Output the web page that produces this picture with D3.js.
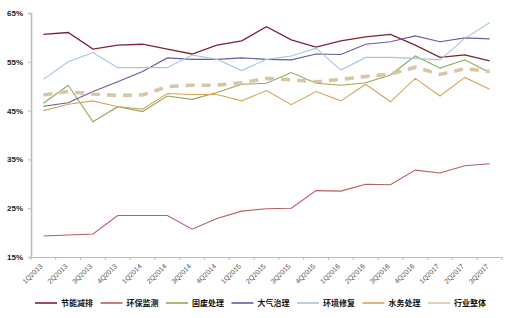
<!DOCTYPE html>
<html>
<head>
<meta charset="utf-8">
<script src="https://cdn.jsdelivr.net/npm/d3@7"></script>
<style>
  body { margin: 0; background: #fff; }
  svg { display: block; }
</style>
</head>
<body>
<svg id="chart" width="516" height="318"></svg>
<script>
// quarters on the x axis
var quarters = ["1Q2013","2Q2013","3Q2013","4Q2013","1Q2014","2Q2014","3Q2014","4Q2014",
  "1Q2015","2Q2015","3Q2015","4Q2015","1Q2016","2Q2016","3Q2016","4Q2016",
  "1Q2017","2Q2017","3Q2017"];

var yTicks = [15, 25, 35, 45, 55, 65];

// gross margin by sub-sector (%)
var jienengjianpai = [60.6,61.0,57.6,58.4,58.6,57.6,56.6,58.4,59.3,62.2,59.5,58.0,59.3,60.1,60.6,58.4,55.9,56.4,55.2];
var huanbaojiance  = [19.3,19.5,19.7,23.5,23.5,23.5,20.7,22.9,24.4,24.9,25.0,28.6,28.5,29.9,29.8,32.8,32.2,33.7,34.1];
var gufeichuli     = [46.5,50.2,42.7,45.8,44.8,48.0,47.3,48.7,50.4,50.6,52.8,50.6,50.2,50.7,52.3,56.2,53.7,55.4,52.8];
var daqizhili       = [45.9,46.6,48.9,50.9,53.0,55.8,55.5,55.5,55.8,55.5,55.4,56.6,56.5,58.6,59.1,60.3,59.1,59.9,59.7];
var huanjingxiufu  = [51.4,55.0,56.9,53.8,53.8,53.8,56.4,55.5,53.2,55.5,56.2,57.8,53.3,55.9,55.9,55.7,55.4,59.8,63.0];
var shuiwuchuli    = [45.0,46.3,47.0,45.8,45.3,48.5,48.3,48.3,47.0,49.1,46.2,48.9,47.0,50.4,46.8,51.6,48.0,51.8,49.4];
var hangyezhengti  = [48.2,48.9,48.4,48.1,48.2,49.9,50.2,50.2,50.7,51.6,51.3,50.9,51.4,52.0,52.5,53.9,52.4,53.6,53.0];

var series = [
  {name: "节能减排", values: jienengjianpai, color: "#7b2333", width: 1.3},
  {name: "环保监测", values: huanbaojiance,  color: "#b5605e", width: 1.1},
  {name: "固废处理", values: gufeichuli,     color: "#8fab58", width: 1.1},
  {name: "大气治理", values: daqizhili,      color: "#6a5aa2", width: 1.1},
  {name: "环境修复", values: huanjingxiufu,  color: "#a3c7dc", width: 1.1},
  {name: "水务处理", values: shuiwuchuli,    color: "#d9a35a", width: 1.1},
  {name: "行业整体", values: hangyezhengti,  color: "#d9c6a6", width: 3.6, dash: "9,7"}
];

var svg = d3.select("#chart");
var margin = {left: 31, right: 14, top: 13, bottom: 61};
var width = 516 - margin.left - margin.right,
    height = 318 - margin.top - margin.bottom;

var x = d3.scaleBand().domain(quarters).range([0, width]);
var y = d3.scaleLinear().domain([15, 65]).range([height, 0]);

var g = svg.append("g").attr("transform", "translate(" + margin.left + "," + margin.top + ")");

// y axis
var yAxis = g.append("g")
    .call(d3.axisLeft(y).tickValues(yTicks).tickSize(3).tickFormat(function(d) { return d + "%"; }));
yAxis.select(".domain").attr("stroke", "#bdbdbd").attr("stroke-width", 1.6);
yAxis.selectAll(".tick line").attr("stroke", "#bdbdbd");
yAxis.selectAll(".tick text")
    .attr("x", -8)
    .attr("fill", "#222")
    .style("font", "bold 8px 'Liberation Sans', Arial, sans-serif");

// x axis, ticks on band boundaries
var xAxis = g.append("g").attr("transform", "translate(0," + height + ")")
    .call(d3.axisBottom(x).tickSize(0).tickFormat(""));
xAxis.select(".domain").attr("stroke", "#bdbdbd").attr("stroke-width", 1);

var bounds = d3.range(quarters.length + 1).map(function(i) { return i * x.step(); });
g.selectAll(".xtick").data(bounds).enter().append("line")
    .attr("x1", function(d) { return d; }).attr("x2", function(d) { return d; })
    .attr("y1", height).attr("y2", height + 3)
    .attr("stroke", "#bdbdbd");

g.selectAll(".xlabel").data(quarters).enter().append("text")
    .attr("transform", function(d) {
      return "translate(" + (x(d) + x.bandwidth() / 2 - 2) + "," + (height + 8) + ") rotate(-45)";
    })
    .attr("text-anchor", "end")
    .attr("dy", "0.35em")
    .attr("fill", "#555")
    .style("font", "7px 'Liberation Sans', Arial, sans-serif")
    .text(function(d) { return d; });

// lines
var line = d3.line()
    .x(function(d, i) { return x(quarters[i]) + x.bandwidth() / 2; })
    .y(function(d) { return y(d); });

g.selectAll(".series").data(series).enter().append("path")
    .attr("fill", "none")
    .attr("stroke", function(d) { return d.color; })
    .attr("stroke-width", function(d) { return d.width; })
    .attr("stroke-dasharray", function(d) { return d.dash || null; })
    .attr("d", function(d) { return line(d.values); });

// legend
var legend = svg.append("g").attr("transform", "translate(35,303)");
var item = legend.selectAll(".item").data(series).enter().append("g")
    .attr("transform", function(d, i) { return "translate(" + (i * 65.5) + ",0)"; });
item.append("line")
    .attr("x1", 0).attr("x2", 22)
    .attr("stroke", function(d) { return d.color; })
    .attr("stroke-width", 1.6);
item.append("text")
    .attr("x", 26).attr("dy", "0.35em")
    .attr("fill", "#111")
    .style("font", "bold 8px 'Noto Sans CJK SC', sans-serif")
    .text(function(d) { return d.name; });
</script>
</body>
</html>
